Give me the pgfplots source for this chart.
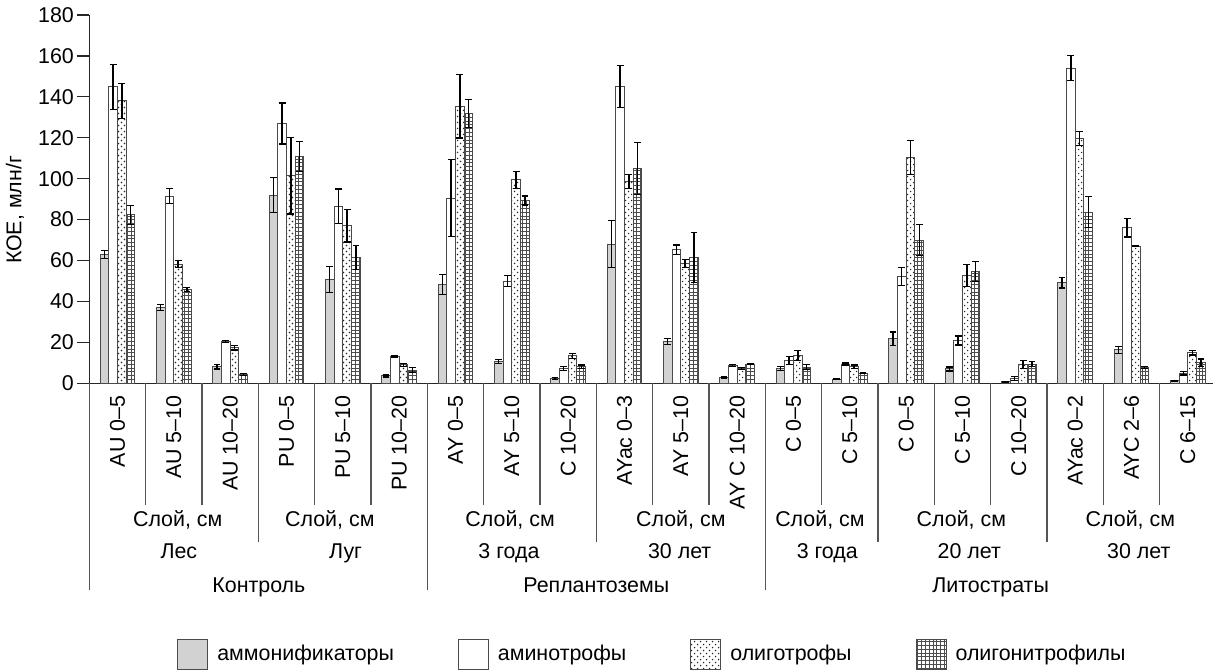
\documentclass[border=0pt]{standalone}
\usepackage{fontspec}
\setmainfont{Liberation Sans}
\usepackage{pgfplots}
\pgfplotsset{compat=1.18}
\usetikzlibrary{patterns}

\pgfdeclarepatternformonly{finedots}{\pgfqpoint{-0.5pt}{-0.5pt}}{\pgfqpoint{3.5pt}{3.5pt}}{\pgfqpoint{3.0pt}{3.0pt}}{%
  \pgfpathcircle{\pgfqpoint{0.75pt}{0.75pt}}{0.38pt}%
  \pgfpathcircle{\pgfqpoint{2.25pt}{2.25pt}}{0.38pt}%
  \pgfusepath{fill}}
\pgfdeclarepatternformonly{finegrid}{\pgfqpoint{-0.2pt}{-0.2pt}}{\pgfqpoint{2.1pt}{2.1pt}}{\pgfqpoint{1.9pt}{1.9pt}}{%
  \pgfsetlinewidth{0.25pt}%
  \pgfpathmoveto{\pgfqpoint{0pt}{0.95pt}}\pgfpathlineto{\pgfqpoint{1.9pt}{0.95pt}}%
  \pgfpathmoveto{\pgfqpoint{0.95pt}{0pt}}\pgfpathlineto{\pgfqpoint{0.95pt}{1.9pt}}%
  \pgfusepath{stroke}}

\definecolor{barline}{HTML}{4A4A4A}
\definecolor{bargray}{HTML}{D2D2D2}
\definecolor{sepline}{HTML}{555555}

\pgfplotsset{
  myleg/.style={legend image code/.code={\draw[##1,line width=0.5pt] (0pt,-7.5pt) rectangle (15pt,7.5pt);}},
  myerr/.style={error bars/.cd, y dir=both, y explicit,
    error bar style={line width=0.7pt, black},
    error mark options={rotate=90, mark size=1.7pt, line width=0.6pt, black}},
}

\begin{document}
\fontsize{10.7pt}{13pt}\selectfont
\begin{tikzpicture}
\path[use as bounding box] (0,0) rectangle (606.5pt,335pt);
\begin{axis}[
  at={(44.65pt,143.35pt)}, anchor=south west,
  scale only axis, width=561.85pt, height=184.15pt,
  xmin=-0.5, xmax=19.447, ymin=0, ymax=180,
  clip=false,
  axis x line*=bottom, axis y line*=left,
  axis line style={-, line width=0.6pt, black!85},
  ytick={0,20,...,180},
  tick align=outside, major tick length=6pt,
  ytick style={line width=0.6pt, black!85},
  xtick={0,...,19},
  xtick style={draw=none},
  xticklabels={AU 0–5, AU 5–10, AU 10–20, PU 0–5, PU 5–10, PU 10–20, AY 0–5, AY 5–10, C 10–20, AYac 0–3, AY 5–10, AY C 10–20, C 0–5, C 5–10, C 0–5, C 5–10, C 10–20, AYac 0–2, AYC 2–6, C 6–15},
  xticklabel style={rotate=90, anchor=east, inner sep=0pt},
  yticklabel style={inner sep=1.5pt},
  /pgf/number format/assume math mode=true,
  ylabel={КОЕ, млн/г},
  every axis y label/.style={at={(axis description cs:-0.0661,0.4705)}, rotate=90, anchor=center},
  ybar,
  bar width=0.155,
  legend style={at={(axis description cs:0.502,-0.735)}, anchor=center, draw=none, fill=none,
    legend columns=4,
    /tikz/every odd column/.append style={column sep=2.5pt},
    /tikz/every even column/.append style={column sep=30pt}},
  legend cell align=left,
]
\addplot[draw=barline, line width=0.5pt, fill=bargray, bar shift=-0.2325, myleg, myerr] coordinates {
 (0,63) +- (0,2)
 (1,37) +- (0,1.5)
 (2,8.1) +- (0,1.1)
 (3,92) +- (0,8.4)
 (4,50.8) +- (0,6.3)
 (5,3.6) +- (0,0.5)
 (6,48.4) +- (0,4.9)
 (7,10.6) +- (0,1.1)
 (8,2.4) +- (0,0.5)
 (9,68) +- (0,11.4)
 (10,20.4) +- (0,1.6)
 (11,2.8) +- (0,0.3)
 (12,7.3) +- (0,1.1)
 (13,2.1) +- (0,0.3)
 (14,21.7) +- (0,3.4)
 (15,7) +- (0,1)
 (16,0.7) +- (0,0.2)
 (17,49.2) +- (0,2.6)
 (18,16.3) +- (0,1.6)
 (19,1.3) +- (0,0.2)
};
\addlegendentry{аммонификаторы}
\addplot[draw=barline, line width=0.5pt, fill=white, bar shift=-0.0775, myleg, myerr] coordinates {
 (0,145) +- (0,11)
 (1,91.5) +- (0,3.6)
 (2,20.5) +- (0,0.5)
 (3,127) +- (0,10)
 (4,86.5) +- (0,8.5)
 (5,13) +- (0,0.3)
 (6,90.5) +- (0,18.9)
 (7,50) +- (0,2.5)
 (8,7.3) +- (0,1.1)
 (9,145) +- (0,10.2)
 (10,65.2) +- (0,2.4)
 (11,8.6) +- (0,0.5)
 (12,11) +- (0,2)
 (13,9.4) +- (0,0.5)
 (14,52.1) +- (0,4.4)
 (15,20.9) +- (0,2.2)
 (16,2.4) +- (0,1.1)
 (17,154) +- (0,6.2)
 (18,76.1) +- (0,4.6)
 (19,4.9) +- (0,0.8)
};
\addlegendentry{аминотрофы}
\addplot[draw=barline, line width=0.5pt, pattern=finedots, pattern color=black!85, bar shift=0.0775, myleg, myerr] coordinates {
 (0,138) +- (0,8.7)
 (1,58.3) +- (0,1.6)
 (2,17.4) +- (0,1.1)
 (3,101.5) +- (0,18.8)
 (4,77) +- (0,7.9)
 (5,9) +- (0,0.8)
 (6,135.5) +- (0,15.6)
 (7,99.4) +- (0,4.2)
 (8,13.4) +- (0,1.2)
 (9,98.6) +- (0,3.5)
 (10,58.6) +- (0,2)
 (11,7.3) +- (0,0.5)
 (12,13.5) +- (0,2.4)
 (13,8.1) +- (0,0.8)
 (14,110.3) +- (0,8.2)
 (15,52.6) +- (0,5.3)
 (16,9.3) +- (0,2)
 (17,119.7) +- (0,3.3)
 (18,67.1) +- (0,0.3)
 (19,15) +- (0,1.2)
};
\addlegendentry{олиготрофы}
\addplot[draw=barline, line width=0.5pt, pattern=finegrid, pattern color=black!70, bar shift=0.2325, myleg, myerr] coordinates {
 (0,82.3) +- (0,4.7)
 (1,45.9) +- (0,1)
 (2,4.4) +- (0,0.5)
 (3,111) +- (0,7.3)
 (4,61.4) +- (0,5.9)
 (5,6.5) +- (0,1.1)
 (6,131.9) +- (0,6.9)
 (7,89.3) +- (0,2.2)
 (8,8.1) +- (0,0.8)
 (9,105) +- (0,12.7)
 (10,61.4) +- (0,12.2)
 (11,9.3) +- (0,0.3)
 (12,7.8) +- (0,1.2)
 (13,4.9) +- (0,0.3)
 (14,70) +- (0,7.6)
 (15,54.6) +- (0,4.9)
 (16,9.4) +- (0,1.2)
 (17,83.6) +- (0,7.6)
 (18,7.8) +- (0,0.5)
 (19,10.1) +- (0,1.8)
};
\addlegendentry{олигонитрофилы}

% separators
\pgfplotsinvokeforeach{0.5,1.5,3.5,4.5,6.5,7.5,9.5,10.5,12.5,14.5,15.5,17.5,18.5}
  {\draw[sepline, line width=0.6pt] (axis cs:#1,0) -- ++(0pt,-60.85pt);}
\pgfplotsinvokeforeach{2.5,8.5,13.5,16.5}
  {\draw[sepline, line width=0.6pt] (axis cs:#1,0) -- ++(0pt,-79.35pt);}
\pgfplotsinvokeforeach{-0.5,5.5,11.5}
  {\draw[sepline, line width=0.6pt] (axis cs:#1,0) -- ++(0pt,-103.35pt);}

% labels
\pgfplotsinvokeforeach{1.07,3.77,6.97,10,12.47,14.98,17.98}
  {\node[anchor=base, inner sep=0pt] at ([yshift=-71.7pt]axis cs:#1,0) {Слой, см};}
\node[anchor=base, inner sep=0pt] at ([yshift=-87.5pt]axis cs:1.09,0) {Лес};
\node[anchor=base, inner sep=0pt] at ([yshift=-87.5pt]axis cs:4.05,0) {Луг};
\node[anchor=base, inner sep=0pt] at ([yshift=-87.5pt]axis cs:6.95,0) {3 года};
\node[anchor=base, inner sep=0pt] at ([yshift=-87.5pt]axis cs:9.98,0) {30 лет};
\node[anchor=base, inner sep=0pt] at ([yshift=-87.5pt]axis cs:12.6,0) {3 года};
\node[anchor=base, inner sep=0pt] at ([yshift=-87.5pt]axis cs:15.12,0) {20 лет};
\node[anchor=base, inner sep=0pt] at ([yshift=-87.5pt]axis cs:18.13,0) {30 лет};
\node[anchor=base, inner sep=0pt] at ([yshift=-104.7pt]axis cs:2.51,0) {Контроль};
\node[anchor=base, inner sep=0pt] at ([yshift=-104.7pt]axis cs:8.5,0) {Реплантоземы};
\node[anchor=base, inner sep=0pt] at ([yshift=-104.7pt]axis cs:15.5,0) {Литостраты};
\end{axis}
\end{tikzpicture}
\end{document}
